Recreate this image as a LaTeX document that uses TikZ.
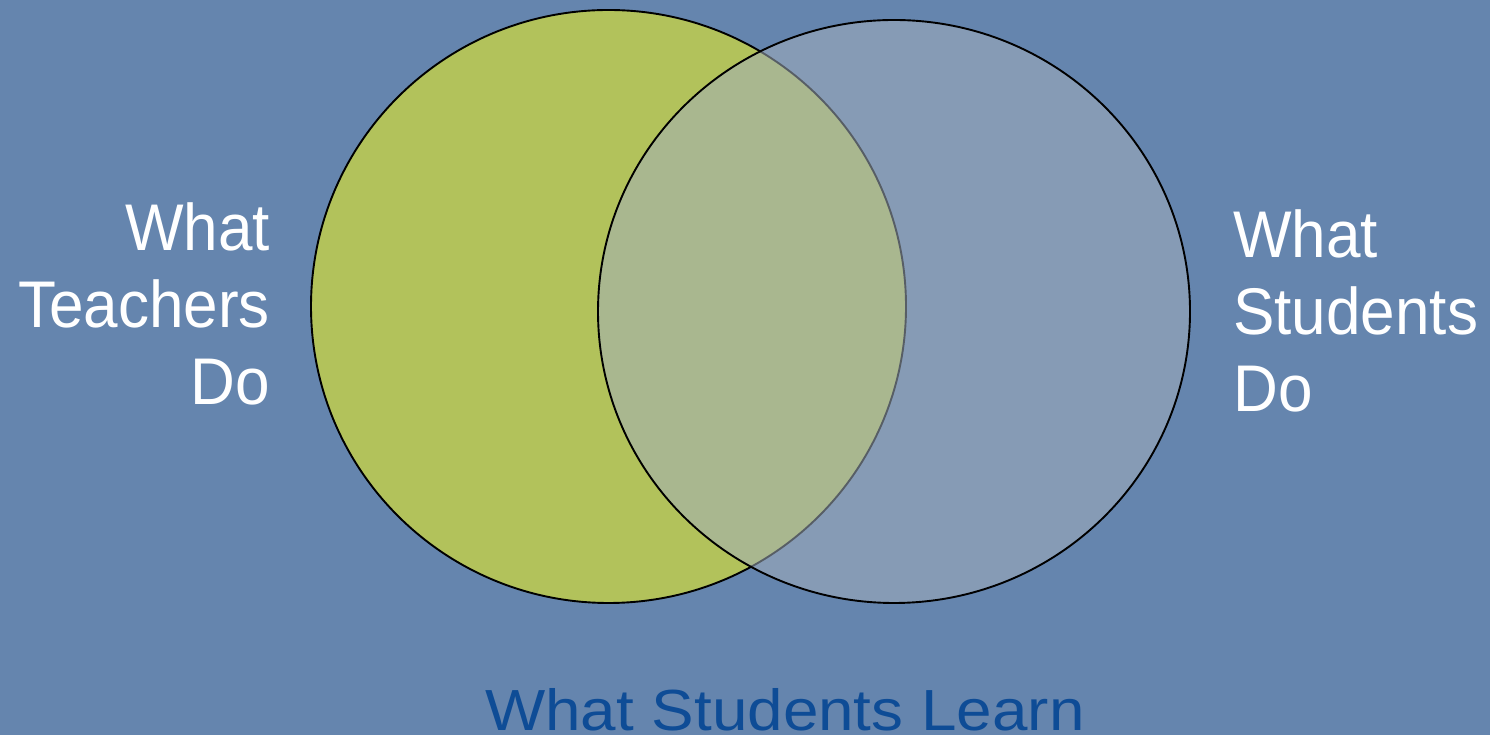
\documentclass[tikz,border=0pt]{standalone}
\usepackage{fontspec}
\setmainfont{Liberation Sans}
\definecolor{bgblue}{RGB}{101,133,174}
\definecolor{leftgreen}{RGB}{178,194,91}
\definecolor{rightgray}{RGB}{162,174,188}
\definecolor{learnblue}{RGB}{14,76,150}
\tikzset{
  circ/.style={line width=1.9pt, draw=black},
  sidetext/.style={text=white, font=\fontsize{66}{77}\selectfont, inner sep=0pt, xscale=0.94},
}
\begin{document}
\begin{tikzpicture}[x=1pt,y=1pt]
\fill[bgblue] (0,0) rectangle (1490,735);
\useasboundingbox (0,0) rectangle (1490,735);
\draw[circ, fill=leftgreen] (608.5,428.5) ellipse [x radius=297.5, y radius=296.5];
\draw[circ, fill=rightgray, fill opacity=0.54] (894,423.5) ellipse [x radius=296, y radius=291.5];
\node[sidetext, align=right, anchor=base east] (tl) at (270,330) {What\\Teachers\\Do};
\node[sidetext, align=left, anchor=base west] (tr) at (1233,323) {What\\Students\\Do};
\node[text=learnblue, font=\fontsize{58}{60}\selectfont, inner sep=0pt, anchor=base west, xscale=1.1] (learn) at (485,4) {What Students Learn};
\end{tikzpicture}
\end{document}
